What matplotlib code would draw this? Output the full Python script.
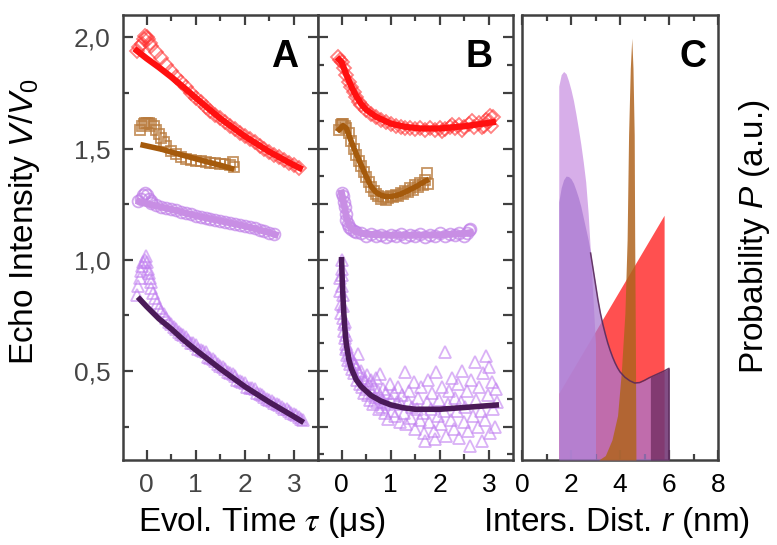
import matplotlib
matplotlib.use('Agg')
import matplotlib.pyplot as plt
from matplotlib.ticker import AutoMinorLocator, MultipleLocator

plt.rcParams['font.family'] = ['Liberation Sans', 'DejaVu Sans']
plt.rcParams['mathtext.fontset'] = 'custom'
plt.rcParams['mathtext.rm'] = 'Liberation Sans'
plt.rcParams['mathtext.it'] = 'Liberation Sans:italic'

# ---------------- Panel A: echo decays ----------------
a_red_t = [-0.2, -0.15, -0.1, -0.06, -0.03, 0.0, 0.03, 0.06, 0.1, 0.2, 0.3, 0.4, 0.5, 0.6, 0.7,
           0.8, 0.9, 1.0, 1.1, 1.2, 1.3, 1.4, 1.5, 1.6, 1.7, 1.8, 1.9, 2.0, 2.1, 2.2, 2.3, 2.4,
           2.5, 2.6, 2.7, 2.8, 2.9, 3.0, 3.1]
a_red_v = [1.94, 1.955, 1.97, 1.99, 2.005, 2.0, 1.99, 1.975, 1.96, 1.935, 1.905, 1.875, 1.85,
           1.823, 1.798, 1.775, 1.75, 1.728, 1.707, 1.688, 1.67, 1.652, 1.635, 1.619, 1.602,
           1.586, 1.57, 1.555, 1.541, 1.527, 1.513, 1.499, 1.485, 1.473, 1.461, 1.449, 1.437,
           1.425, 1.414]
a_red_fit_t = [-0.2, 0.0, 0.25, 0.5, 0.75, 1.0, 1.5, 2.0, 2.5, 3.0, 3.12]
a_red_fit_v = [1.94, 1.905, 1.865, 1.822, 1.776, 1.728, 1.635, 1.555, 1.485, 1.425, 1.412]

a_brn_t = [-0.13, -0.1, -0.06, -0.03, 0.0, 0.05, 0.1, 0.15, 0.2, 0.25, 0.3, 0.35, 0.4, 0.5,
           0.6, 0.7, 0.8, 0.9, 1.0, 1.1, 1.2, 1.3, 1.4, 1.5, 1.6, 1.7, 1.75, 1.78]
a_brn_v = [1.585, 1.60, 1.61, 1.615, 1.615, 1.615, 1.61, 1.60, 1.585, 1.565, 1.545, 1.527,
           1.512, 1.49, 1.475, 1.463, 1.455, 1.45, 1.446, 1.443, 1.44, 1.437, 1.434, 1.432,
           1.43, 1.428, 1.44, 1.415]
a_brn_fit_t = [-0.07, 0.3, 0.6, 0.9, 1.2, 1.5, 1.73]
a_brn_fit_v = [1.515, 1.497, 1.478, 1.46, 1.442, 1.425, 1.41]

a_cir_t = [-0.17, -0.12, -0.08, -0.04, 0.0, 0.04, 0.08, 0.1, 0.2, 0.3, 0.4, 0.5, 0.6, 0.7, 0.8,
           0.9, 1.0, 1.1, 1.2, 1.3, 1.4, 1.5, 1.6, 1.7, 1.8, 1.9, 2.0, 2.1, 2.2, 2.3, 2.4, 2.5, 2.6]
a_cir_v = [1.262, 1.275, 1.29, 1.30, 1.29, 1.275, 1.262, 1.255, 1.245, 1.239, 1.233, 1.227,
           1.222, 1.216, 1.21, 1.204, 1.198, 1.193, 1.189, 1.184, 1.18, 1.175, 1.171, 1.166,
           1.162, 1.157, 1.152, 1.147, 1.141, 1.135, 1.129, 1.122, 1.115]
a_cir_fit_t = [-0.15, 0.0, 0.5, 1.0, 1.5, 2.0, 2.5, 2.62]
a_cir_fit_v = [1.262, 1.252, 1.227, 1.198, 1.175, 1.152, 1.122, 1.113]

a_tri_t = [-0.2, -0.17, -0.14, -0.12, -0.1, -0.07, -0.04, -0.02, 0.0, 0.02, 0.04, 0.06, 0.08,
           0.1, 0.14, 0.18, 0.22, 0.26, 0.3, 0.35, 0.4, 0.45, 0.5, 0.55, 0.6, 0.65, 0.7, 0.75,
           0.8, 0.85, 0.9, 0.95, 1.0, 1.05, 1.1, 1.15, 1.2, 1.25, 1.3, 1.35, 1.4, 1.45, 1.5,
           1.55, 1.6, 1.65, 1.7, 1.75, 1.8, 1.85, 1.9, 1.95, 2.0, 2.05, 2.1, 2.15, 2.2, 2.25,
           2.3, 2.35, 2.4, 2.45, 2.5, 2.55, 2.6, 2.65, 2.7, 2.75, 2.8, 2.85, 2.9, 2.95, 3.0,
           3.05, 3.1, 3.15, 3.18]
a_tri_v = [0.84, 0.88, 0.92, 0.95, 0.97, 0.99, 1.0, 1.015, 0.99, 0.96, 0.94, 0.92, 0.90,
           0.875, 0.85, 0.83, 0.805, 0.785, 0.77, 0.755, 0.74, 0.722, 0.71, 0.70, 0.69, 0.675,
           0.668, 0.66, 0.652, 0.64, 0.628, 0.625, 0.616, 0.60, 0.596, 0.59, 0.585, 0.565,
           0.558, 0.552, 0.545, 0.53, 0.524, 0.518, 0.51, 0.495, 0.49, 0.485, 0.478, 0.46,
           0.455, 0.452, 0.445, 0.43, 0.425, 0.424, 0.418, 0.40, 0.395, 0.392, 0.385, 0.372,
           0.368, 0.365, 0.356, 0.35, 0.345, 0.337, 0.33, 0.328, 0.322, 0.31, 0.305, 0.302,
           0.295, 0.285, 0.28]
a_tri_fit_t = [-0.14, 0.0, 0.25, 0.5, 0.75, 1.0, 1.5, 2.0, 2.5, 3.0, 3.15]
a_tri_fit_v = [0.823, 0.79, 0.735, 0.69, 0.64, 0.595, 0.51, 0.43, 0.36, 0.295, 0.275]

# ---------------- Panel B: background corrected ----------------
b_red_t = [-0.07, -0.03, 0.0, 0.05, 0.1, 0.15, 0.2, 0.25, 0.3, 0.35, 0.4, 0.5, 0.6, 0.7, 0.8,
           0.9, 1.0, 1.1, 1.2, 1.3, 1.4, 1.5, 1.6, 1.7, 1.8, 1.9, 2.0, 2.05, 2.1, 2.2, 2.25,
           2.3, 2.4, 2.45, 2.5, 2.6, 2.65, 2.7, 2.8, 2.85, 2.9, 2.95, 3.0, 3.02, 3.05, 3.08]
b_red_v = [1.91, 1.90, 1.888, 1.86, 1.83, 1.80, 1.778, 1.752, 1.73, 1.71, 1.695, 1.672, 1.655,
           1.64, 1.628, 1.618, 1.61, 1.603, 1.598, 1.594, 1.591, 1.589, 1.592, 1.585, 1.59,
           1.584, 1.592, 1.578, 1.586, 1.598, 1.605, 1.59, 1.604, 1.585, 1.596, 1.61, 1.622,
           1.598, 1.615, 1.595, 1.603, 1.628, 1.622, 1.645, 1.60, 1.64]
b_red_fit_t = [-0.05, 0.0, 0.1, 0.2, 0.3, 0.4, 0.5, 0.7, 1.0, 1.3, 1.6, 2.0, 2.5, 3.08]
b_red_fit_v = [1.90, 1.888, 1.83, 1.778, 1.735, 1.70, 1.675, 1.643, 1.612, 1.597, 1.59, 1.59,
               1.60, 1.618]

b_brn_t = [-0.05, -0.02, 0.0, 0.03, 0.06, 0.1, 0.15, 0.2, 0.25, 0.3, 0.35, 0.4, 0.45, 0.5,
           0.55, 0.6, 0.65, 0.7, 0.75, 0.8, 0.85, 0.9, 0.95, 1.0, 1.05, 1.1, 1.15, 1.2, 1.25,
           1.3, 1.35, 1.4, 1.45, 1.5, 1.55, 1.6, 1.65, 1.7, 1.73, 1.76]
b_brn_v = [1.585, 1.605, 1.61, 1.61, 1.60, 1.59, 1.57, 1.535, 1.50, 1.47, 1.445, 1.42, 1.395,
           1.37, 1.35, 1.325, 1.31, 1.295, 1.285, 1.275, 1.28, 1.27, 1.276, 1.288, 1.28, 1.29,
           1.285, 1.3, 1.296, 1.31, 1.303, 1.322, 1.315, 1.334, 1.325, 1.345, 1.338, 1.36,
           1.39, 1.34]
b_brn_fit_t = [-0.05, 0.03, 0.1, 0.2, 0.3, 0.4, 0.5, 0.6, 0.7, 0.8, 0.9, 1.0, 1.1, 1.2, 1.3,
               1.4, 1.5, 1.6, 1.73]
b_brn_fit_v = [1.585, 1.603, 1.59, 1.53, 1.475, 1.425, 1.375, 1.33, 1.303, 1.29, 1.284,
               1.284, 1.288, 1.295, 1.305, 1.316, 1.327, 1.34, 1.356]

b_cir_t = [0.0, 0.02, 0.04, 0.06, 0.08, 0.1, 0.13, 0.16, 0.2, 0.25, 0.3, 0.4, 0.5, 0.6, 0.7,
           0.8, 0.9, 1.0, 1.1, 1.2, 1.3, 1.4, 1.5, 1.6, 1.7, 1.8, 1.9, 2.0, 2.1, 2.2, 2.3, 2.4,
           2.5, 2.55, 2.6, 2.62]
b_cir_v = [1.30, 1.285, 1.26, 1.235, 1.205, 1.18, 1.16, 1.148, 1.138, 1.13, 1.125, 1.118,
           1.108, 1.115, 1.105, 1.112, 1.104, 1.113, 1.106, 1.114, 1.103, 1.112, 1.108, 1.116,
           1.104, 1.113, 1.107, 1.118, 1.106, 1.115, 1.11, 1.12, 1.108, 1.122, 1.135, 1.14]
b_cir_fit_t = [0.0, 0.05, 0.1, 0.15, 0.2, 0.3, 0.5, 1.0, 1.5, 2.0, 2.5, 2.62]
b_cir_fit_v = [1.30, 1.25, 1.19, 1.155, 1.14, 1.125, 1.115, 1.11, 1.11, 1.112, 1.118, 1.122]

b_tri_t = [-0.04, -0.03, -0.02, -0.01, 0.0, 0.0, 0.01, 0.01, 0.02, 0.02, 0.03, 0.04, 0.05,
           0.06, 0.07, 0.08, 0.09, 0.1, 0.11, 0.12, 0.14, 0.16, 0.18, 0.2, 0.22, 0.24, 0.26,
           0.28, 0.3, 0.32, 0.34, 0.36, 0.38, 0.4, 0.42, 0.44, 0.46, 0.48, 0.5, 0.52, 0.54,
           0.56, 0.58, 0.6, 0.62, 0.64, 0.66, 0.68, 0.7, 0.72, 0.74, 0.76, 0.78, 0.8, 0.82,
           0.84, 0.86, 0.88, 0.9, 0.92, 0.95, 0.98, 1.0, 1.03, 1.06, 1.09, 1.12, 1.15, 1.18,
           1.21, 1.24, 1.27, 1.29, 1.32, 1.35, 1.38, 1.41, 1.44, 1.47, 1.5, 1.53, 1.56, 1.59,
           1.62, 1.65, 1.68, 1.7, 1.73, 1.76, 1.79, 1.82, 1.85, 1.88, 1.9, 1.93, 1.96, 1.99,
           2.02, 2.05, 2.08, 2.1, 2.13, 2.16, 2.19, 2.22, 2.25, 2.28, 2.31, 2.34, 2.37, 2.4,
           2.43, 2.46, 2.49, 2.52, 2.55, 2.58, 2.61, 2.64, 2.67, 2.71, 2.74, 2.77, 2.8, 2.83,
           2.85, 2.88, 2.91, 2.95, 2.98, 3.0, 3.03, 3.06, 3.09, 3.12, 3.15, 3.17]
b_tri_v = [0.92, 0.86, 0.80, 0.76, 1.0, 0.96, 0.93, 0.88, 0.84, 0.79, 0.74, 0.71, 0.68, 0.72,
           0.65, 0.62, 0.66, 0.60, 0.57, 0.61, 0.55, 0.58, 0.53, 0.56, 0.51, 0.54, 0.49, 0.53,
           0.52, 0.46, 0.576, 0.49, 0.44, 0.50, 0.43, 0.47, 0.40, 0.455, 0.42, 0.48, 0.39,
           0.44, 0.37, 0.46, 0.40, 0.35, 0.43, 0.385, 0.47, 0.36, 0.41, 0.33, 0.486, 0.38,
           0.34, 0.42, 0.36, 0.31, 0.40, 0.35, 0.284, 0.44, 0.37, 0.32, 0.40, 0.30, 0.36, 0.43,
           0.27, 0.35, 0.39, 0.31, 0.494, 0.26, 0.36, 0.41, 0.29, 0.34, 0.45, 0.24, 0.33, 0.38,
           0.28, 0.43, 0.31, 0.22, 0.187, 0.36, 0.46, 0.27, 0.33, 0.40, 0.23, 0.195, 0.494,
           0.30, 0.37, 0.26, 0.43, 0.32, 0.584, 0.21, 0.35, 0.41, 0.28, 0.47, 0.24, 0.38, 0.32,
           0.44, 0.20, 0.36, 0.50, 0.27, 0.34, 0.41, 0.23, 0.165, 0.46, 0.30, 0.539, 0.37,
           0.25, 0.43, 0.32, 0.187, 0.49, 0.28, 0.569, 0.39, 0.52, 0.22, 0.45, 0.33, 0.247,
           0.42, 0.36]
b_tri_fit_t = [0.0, 0.01, 0.02, 0.04, 0.06, 0.08, 0.1, 0.15, 0.2, 0.3, 0.4, 0.5, 0.6, 0.8,
               1.0, 1.25, 1.5, 2.0, 2.5, 3.15]
b_tri_fit_v = [1.0, 0.93, 0.87, 0.78, 0.71, 0.655, 0.615, 0.55, 0.51, 0.46, 0.43, 0.41, 0.39,
               0.365, 0.348, 0.335, 0.328, 0.328, 0.336, 0.347]

# ---------------- Panel C: distance distributions ----------------
c_red_r = [1.5, 5.8]
c_red_p = [0.15, 0.55]
c_lav_r = [1.5, 1.6, 1.7, 1.8, 1.9, 2.0, 2.1, 2.2, 2.3, 2.4, 2.5, 2.6, 2.7, 2.8, 2.9, 3.0]
c_lav_p = [0.84, 0.866, 0.873, 0.868, 0.852, 0.832, 0.808, 0.778, 0.745, 0.71, 0.67, 0.625,
           0.555, 0.46, 0.36, 0.26]
c_pur_r = [1.5, 1.6, 1.7, 1.8, 1.9, 2.0, 2.1, 2.2, 2.3, 2.4, 2.5, 2.6, 2.7, 2.8, 2.9, 3.0,
           3.1, 3.2, 3.3, 3.4, 3.5, 3.6, 3.7, 3.8, 3.9, 4.0, 4.2, 4.4, 4.6, 4.8, 5.0, 5.2,
           5.4, 5.6, 5.8, 6.0]
c_pur_p = [0.58, 0.612, 0.63, 0.638, 0.637, 0.632, 0.622, 0.607, 0.59, 0.57, 0.545, 0.52,
           0.495, 0.465, 0.43, 0.395, 0.36, 0.33, 0.305, 0.283, 0.263, 0.246, 0.231, 0.218,
           0.207, 0.198, 0.186, 0.178, 0.173, 0.174, 0.179, 0.185, 0.19, 0.195, 0.2, 0.206]
c_brn_r = [3.13, 3.4, 3.67, 3.9, 4.05, 4.2, 4.29, 4.35, 4.42, 4.48, 4.53, 4.58, 4.6, 4.63,
           4.65]
c_brn_p = [0.0, 0.01, 0.045, 0.1, 0.195, 0.33, 0.494, 0.73, 0.88, 0.948, 0.88, 0.73, 0.494,
           0.25, 0.0]
c_dark_r = [5.24, 5.4, 5.6, 5.8, 6.0]
c_dark_p = [0.186, 0.19, 0.195, 0.2, 0.206]

spine_col = '#404040'
fig = plt.figure(figsize=(7.77, 5.45), dpi=100)
axA = fig.add_axes([123 / 777, 85 / 545, 195 / 777, 445 / 545])
axB = fig.add_axes([318 / 777, 85 / 545, 195 / 777, 445 / 545])
axC = fig.add_axes([522 / 777, 85 / 545, 196 / 777, 445 / 545])

for ax in (axA, axB, axC):
    for s in ax.spines.values():
        s.set_color(spine_col)
        s.set_linewidth(1.8)
    ax.tick_params(which='both', direction='in', color=spine_col, width=1.6,
                   top=True, bottom=True, labelsize=19, pad=9)
    ax.tick_params(which='major', length=7)
    ax.tick_params(which='minor', length=4)

mk = dict(ls='none', mfc='none', mew=1.3)

# panel A
axA.plot(a_red_t, a_red_v, marker='D', ms=7.5, mec='#ff3030', alpha=0.6, **mk)
axA.plot(a_red_fit_t, a_red_fit_v, color='#ff1010', lw=4.5)
axA.plot(a_brn_t, a_brn_v, marker='s', ms=7.5, mec='#b87a3c', alpha=0.8, **mk)
axA.plot(a_brn_fit_t, a_brn_fit_v, color='#a55a0c', lw=4)
axA.plot(a_cir_t, a_cir_v, marker='o', ms=8.5, mec='#c080e8', alpha=0.7, **mk)
axA.plot(a_cir_fit_t, a_cir_fit_v, color='#c88ee4', lw=5)
axA.plot(a_tri_t, a_tri_v, marker='^', ms=8.5, mec='#c07ef0', alpha=0.6, **mk)
axA.plot(a_tri_fit_t, a_tri_fit_v, color='#4a1a58', lw=4)

# panel B
axB.plot(b_red_t, b_red_v, marker='D', ms=7.5, mec='#ff3030', alpha=0.6, **mk)
axB.plot(b_red_fit_t, b_red_fit_v, color='#ff1010', lw=4.5)
axB.plot(b_brn_t, b_brn_v, marker='s', ms=7.5, mec='#b87a3c', alpha=0.8, **mk)
axB.plot(b_brn_fit_t, b_brn_fit_v, color='#a55a0c', lw=4)
axB.plot(b_cir_t, b_cir_v, marker='o', ms=8.5, mec='#c080e8', alpha=0.7, **mk)
axB.plot(b_cir_fit_t, b_cir_fit_v, color='#c88ee4', lw=5)
axB.plot(b_tri_t, b_tri_v, marker='^', ms=8.5, mec='#c07ef0', alpha=0.6, **mk)
axB.plot(b_tri_fit_t, b_tri_fit_v, color='#4a1a58', lw=4)

for ax in (axA, axB):
    ax.set_xlim(-0.48, 3.49)
    ax.set_ylim(0.1, 2.1)
    ax.set_xticks([0, 1, 2, 3])
    ax.xaxis.set_minor_locator(AutoMinorLocator(2))
    ax.yaxis.set_minor_locator(AutoMinorLocator(2))
    ax.tick_params(which='both', left=True, right=True)

axA.set_yticks([0.5, 1.0, 1.5, 2.0], ['0,5', '1,0', '1,5', '2,0'])
axA.tick_params(labelcolor='#454545')
axB.tick_params(labelleft=False)

# panel C
axC.fill_between(c_red_r, 0, c_red_p, color='#ff5050', lw=0, zorder=1)
axC.fill_between(c_lav_r, 0, c_lav_p, color='#d0a0e6', alpha=0.85, lw=0, zorder=2)
axC.fill_between(c_pur_r, 0, c_pur_p, color='#a878d0', alpha=0.72, lw=0, zorder=3)
axC.fill_between(c_brn_r, 0, c_brn_p, color='#b0641e', alpha=0.85, lw=0, zorder=4)
axC.fill_between(c_dark_r, 0, c_dark_p, color='#5a1a4a', alpha=0.6, lw=0, zorder=5)
axC.plot(c_pur_r[13:] + [c_pur_r[-1]], c_pur_p[13:] + [0], color='#5a2a5a', lw=1.1,
         alpha=0.9, zorder=6)
axC.set_xlim(0, 8)
axC.set_ylim(0, 1)
axC.set_xticks([0, 2, 4, 6, 8])
axC.xaxis.set_minor_locator(MultipleLocator(1))
axC.tick_params(which='both', left=False, right=False, labelleft=False)

# panel letters
for ax, lab, x in ((axA, 'A', 0.83), (axB, 'B', 0.826), (axC, 'C', 0.872)):
    ax.text(x, 0.905, lab, transform=ax.transAxes, ha='center', va='center',
            fontsize=27, fontweight='bold', zorder=10)

fig.text(25 / 777, 1 - 222 / 545, r'Echo Intensity $V/V_0$', rotation=90,
         ha='center', va='center', fontsize=24)
fig.text(262 / 777, 1 - 523 / 545, r'Evol. Time $\tau$ (μs)', ha='center', va='center',
         fontsize=24, math_fontfamily='stix')
fig.text(617 / 777, 1 - 523 / 545, r'Inters. Dist. $r$ (nm)', ha='center', va='center',
         fontsize=24)
fig.text(755 / 777, 1 - 237 / 545, r'Probability $P$ (a.u.)', rotation=90,
         ha='center', va='center', fontsize=24)

fig.savefig('out.png', dpi=100)
